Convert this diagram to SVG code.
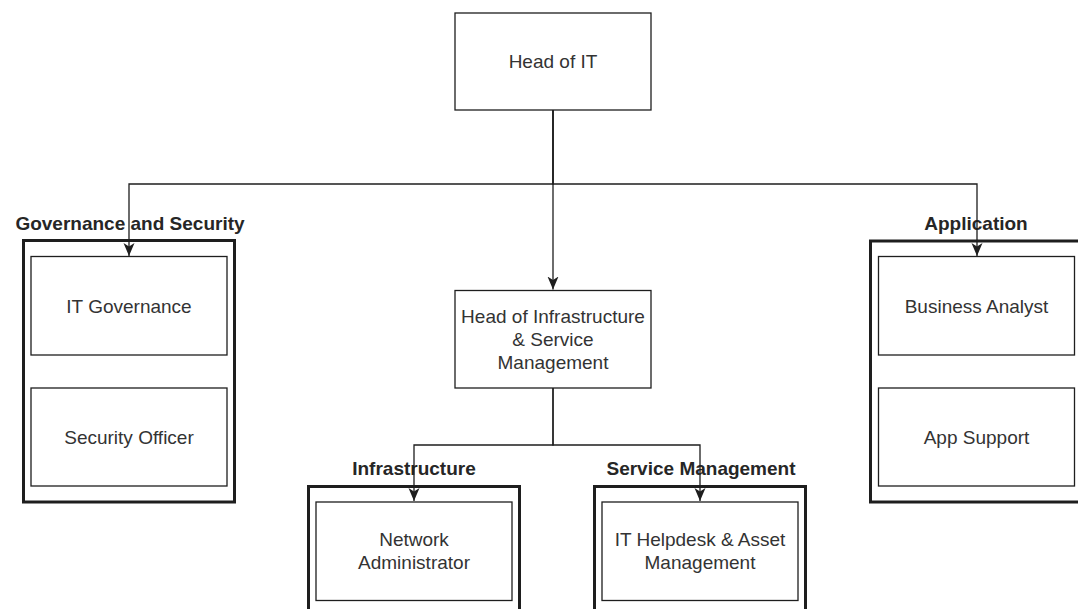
<svg xmlns="http://www.w3.org/2000/svg" width="1078" height="609" viewBox="0 0 1078 609">
<style>
.box{fill:#fff;stroke:#1e1e1e;stroke-width:1.3}
.grp{fill:#fff;stroke:#1e1e1e;stroke-width:3}
.t{font-family:"Liberation Sans",Arial,sans-serif;font-size:19px;fill:#333;text-anchor:middle}
.lbl{font-family:"Liberation Sans",Arial,sans-serif;font-size:19px;font-weight:bold;fill:#262626;text-anchor:middle}
.edge{fill:none;stroke:#1e1e1e;stroke-width:1.3}
</style>
<defs>
<marker id="arr" markerUnits="userSpaceOnUse" markerWidth="14" markerHeight="12" viewBox="-13 -6 14 12" refX="0" refY="0" orient="auto">
<path d="M0,0 L-13,-5.5 L-9.5,0 L-13,5.5 Z" fill="#1e1e1e"/>
</marker>
</defs>
<rect width="1078" height="609" fill="#fff"/>
<g id="grp-governance">
<rect class="grp" x="23.5" y="240.5" width="211" height="261.5"/>
<text class="lbl" x="130" y="230">Governance and Security</text>
</g>
<g id="grp-application">
<rect class="grp" x="870.5" y="241" width="211" height="261"/>
<text class="lbl" x="976" y="230">Application</text>
</g>
<g id="grp-infrastructure">
<rect class="grp" x="308.5" y="486.5" width="211" height="140"/>
<text class="lbl" x="414" y="475">Infrastructure</text>
</g>
<g id="grp-service">
<rect class="grp" x="594.5" y="486.5" width="211" height="140"/>
<text class="lbl" x="701" y="475">Service Management</text>
</g>
<g id="head-it">
<rect class="box" x="455" y="13" width="196" height="97"/>
<text class="t" x="553" y="68">Head of IT</text>
</g>
<g id="head-infra">
<rect class="box" x="455" y="290.5" width="196" height="97.5"/>
<text class="t" x="553" y="322.5">Head of Infrastructure</text>
<text class="t" x="553" y="345.5">&amp; Service</text>
<text class="t" x="553" y="368.5">Management</text>
</g>
<g id="it-governance">
<rect class="box" x="31" y="256.5" width="196" height="98.5"/>
<text class="t" x="129" y="312.5">IT Governance</text>
</g>
<g id="security-officer">
<rect class="box" x="31" y="388" width="196" height="98"/>
<text class="t" x="129" y="443.5">Security Officer</text>
</g>
<g id="business-analyst">
<rect class="box" x="878.5" y="256.5" width="196" height="98.5"/>
<text class="t" x="976.5" y="312.5">Business Analyst</text>
</g>
<g id="app-support">
<rect class="box" x="878.5" y="388" width="196" height="98"/>
<text class="t" x="976.5" y="443.5">App Support</text>
</g>
<g id="network-admin">
<rect class="box" x="316" y="502" width="196" height="98.5"/>
<text class="t" x="414" y="546">Network</text>
<text class="t" x="414" y="569">Administrator</text>
</g>
<g id="helpdesk">
<rect class="box" x="602" y="502" width="196" height="98.5"/>
<text class="t" x="700" y="546">IT Helpdesk &amp; Asset</text>
<text class="t" x="700" y="569">Management</text>
</g>
<g id="connectors">
<path class="edge" d="M553,110 V289.5" marker-end="url(#arr)"/>
<path class="edge" d="M553,110 V184 H129 V256" marker-end="url(#arr)"/>
<path class="edge" d="M553,110 V184 H977 V256" marker-end="url(#arr)"/>
<path class="edge" d="M553,388 V445 H414 V501" marker-end="url(#arr)"/>
<path class="edge" d="M553,388 V445 H700 V501" marker-end="url(#arr)"/>
</g>
</svg>
